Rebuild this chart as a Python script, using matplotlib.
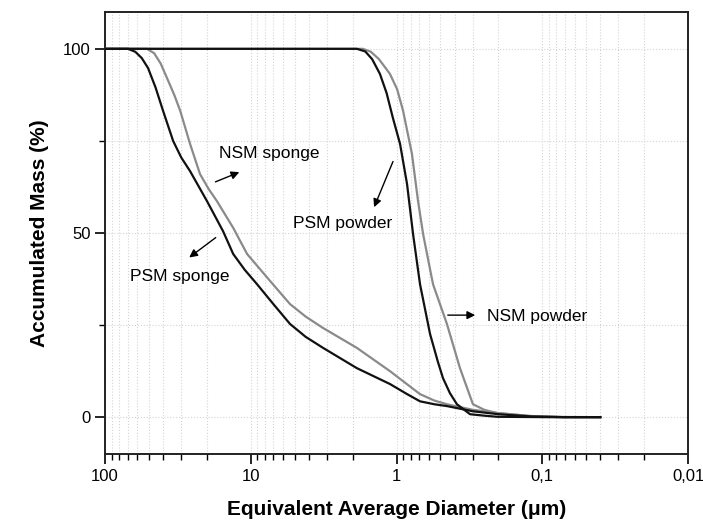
import matplotlib
matplotlib.use("Agg")
import matplotlib.pyplot as plt
from matplotlib.ticker import FixedLocator, FuncFormatter, LogLocator, NullFormatter

plt.rcParams["font.family"] = ["Liberation Sans", "DejaVu Sans"]

# Accumulated mass (%) vs equivalent diameter (um)
psm_sponge_d = [100, 69.5, 62, 56, 50.7, 45, 40, 34.1, 30, 26.1, 20, 15.5, 13.2, 11,
                9.06, 7.0, 5.38, 4.2, 3.19, 1.87, 1.11, 0.85, 0.69, 0.55, 0.45, 0.30,
                0.20, 0.12, 0.072, 0.04]
psm_sponge_m = [100, 100, 99.2, 97.5, 94.8, 89.5, 83.2, 75, 70.5, 66.8, 58.7, 50.5, 44.3,
                40, 36.1, 30.7, 25.3, 21.8, 18.8, 13.3, 9.0, 6.3, 4.3, 3.5, 3.0, 1.6,
                0.8, 0.2, 0, 0]

nsm_sponge_d = [100, 51.5, 46, 41.5, 37.6, 33.5, 30.5, 26.1, 22.3, 19.5, 17.1, 13.2,
                10.6, 7.38, 5.38, 4.2, 3.19, 1.87, 1.11, 0.69, 0.55, 0.45, 0.30, 0.20,
                0.12, 0.072, 0.04]
nsm_sponge_m = [100, 100, 98.8, 96, 92.1, 87.5, 83.2, 74.2, 66.0, 62, 58.7, 51.4,
                44.3, 37, 30.7, 27.3, 24.2, 18.8, 12.5, 6.25, 4.5, 3.5, 2.0, 1.1,
                0.3, 0, 0]

psm_powder_d = [100, 1.87, 1.64, 1.47, 1.30, 1.17, 1.06, 0.946, 0.847, 0.770, 0.690,
                0.589, 0.52, 0.480, 0.43, 0.385, 0.313, 0.25, 0.204, 0.093, 0.04]
psm_powder_m = [100, 100, 99.3, 97.2, 93.2, 88, 81.3, 74.2, 63.3, 49.7, 36.1,
                22.6, 15, 10.6, 6.5, 3.5, 0.8, 0.4, 0.1, 0, 0]

nsm_powder_d = [100, 1.70, 1.50, 1.32, 1.11, 0.99, 0.902, 0.784, 0.712, 0.657, 0.562,
                0.451, 0.367, 0.299, 0.25, 0.204, 0.121, 0.07, 0.04]
nsm_powder_m = [100, 100, 99.2, 97.2, 93.2, 89, 83.2, 71.5, 58.7, 49.7, 36.1,
                25.3, 13.3, 3.5, 2.0, 1.1, 0.3, 0.05, 0]

x_ticks = [100, 10, 1, 0.1, 0.01]
x_tick_labels = ["100", "10", "1", "0,1", "0,01"]
y_ticks = [0, 50, 100]

fig = plt.figure(figsize=(7.03, 5.22), dpi=100)
fig.subplots_adjust(left=0.1494, right=0.9787, top=0.977, bottom=0.1303)
ax = fig.add_subplot(111)

gray = "#8a8a8a"
black = "#111111"
ax.plot(nsm_sponge_d, nsm_sponge_m, color=gray, lw=1.6, zorder=3)
ax.plot(psm_sponge_d, psm_sponge_m, color=black, lw=1.6, zorder=4)
ax.plot(nsm_powder_d, nsm_powder_m, color=gray, lw=1.6, zorder=3)
ax.plot(psm_powder_d, psm_powder_m, color=black, lw=1.6, zorder=4)

ax.set_xscale("log")
ax.set_xlim(100, 0.01)
ax.set_ylim(-10, 110)

ax.xaxis.set_major_locator(FixedLocator(x_ticks))
ax.xaxis.set_major_formatter(FuncFormatter(
    lambda v, p: dict(zip(x_ticks, x_tick_labels)).get(round(v, 6), "")))
ax.xaxis.set_minor_locator(LogLocator(base=10, subs=range(2, 10)))
ax.xaxis.set_minor_formatter(NullFormatter())
ax.yaxis.set_major_locator(FixedLocator(y_ticks))
ax.yaxis.set_minor_locator(FixedLocator([25, 75]))

ax.tick_params(which="major", direction="out", length=7, width=1.2, labelsize=12)
ax.tick_params(which="minor", direction="out", length=4, width=1.0)
for s in ax.spines.values():
    s.set_linewidth(1.4)
    s.set_color("#222222")

ax.grid(True, which="both", linestyle=":", linewidth=0.8, color="#d4d4d4", zorder=0)

ax.set_xlabel("Equivalent Average Diameter (μm)", fontsize=15, fontweight="bold",
              labelpad=12)
ax.set_ylabel("Accumulated Mass (%)", fontsize=15, fontweight="bold", labelpad=10)

arrow = dict(arrowstyle="-|>", color="black", lw=1.0, mutation_scale=12)
ax.text(7.5, 71.7, "NSM sponge", fontsize=12.5, ha="center", va="center")
ax.annotate("", xy=(11.5, 66.8), xytext=(18.2, 63.6), arrowprops=arrow)
ax.text(2.33, 52.7, "PSM powder", fontsize=12.5, ha="center", va="center")
ax.annotate("", xy=(1.45, 56.3), xytext=(1.04, 70.1), arrowprops=arrow)
ax.text(30.6, 38.3, "PSM sponge", fontsize=12.5, ha="center", va="center")
ax.annotate("", xy=(27.4, 42.9), xytext=(16.8, 49.2), arrowprops=arrow)
ax.text(0.239, 27.4, "NSM powder", fontsize=12.5, ha="left", va="center")
ax.annotate("", xy=(0.276, 27.7), xytext=(0.465, 27.7), arrowprops=arrow)

fig.savefig("out.png", dpi=100)
